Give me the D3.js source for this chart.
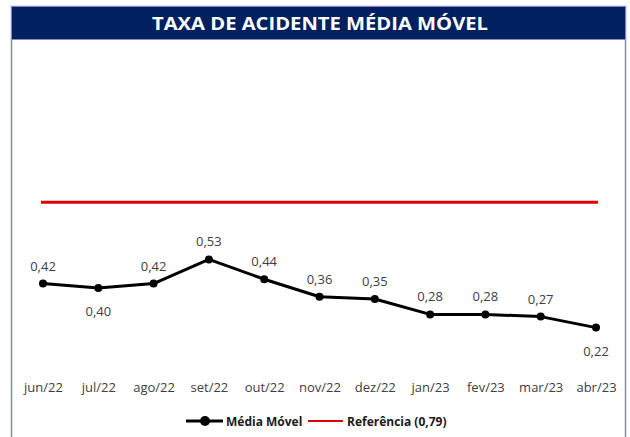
<!DOCTYPE html>
<html>
<head>
<meta charset="utf-8">
<script src="https://cdn.jsdelivr.net/npm/d3@7/dist/d3.min.js"></script>
<style>
  html, body { margin: 0; padding: 0; background: #fff; }
  svg { display: block; }
</style>
</head>
<body>
<svg id="chart" width="630" height="437"></svg>
<script>
// Monthly moving-average accident rate
const months = ["jun/22","jul/22","ago/22","set/22","out/22","nov/22","dez/22","jan/23","fev/23","mar/23","abr/23"];
const mediaMovel = [0.42, 0.40, 0.42, 0.53, 0.44, 0.36, 0.35, 0.28, 0.28, 0.27, 0.22];
const referencia = 0.79;
// label placement for each point: above or below the marker
const labelPos = ["above","below","above","above","above","above","above","above","above","above","below"];
const titleText = "TAXA DE ACIDENTE MÉDIA MÓVEL";
const legendLabels = ["Média Móvel", "Referência (0,79)"];

const svg = d3.select("#chart");
const fmt = v => d3.format(".2f")(v).replace(".", ",");
const font = "'Open Sans', 'Noto Sans', sans-serif";

// frame
svg.append("rect")
  .attr("x", 11.5).attr("y", 6.5)
  .attr("width", 614).attr("height", 440)
  .attr("fill", "none")
  .attr("stroke", "#8585c8").attr("stroke-width", 1.5);

// title bar
svg.append("rect")
  .attr("x", 11.5).attr("y", 6.5)
  .attr("width", 614).attr("height", 33)
  .attr("fill", "#002060")
  .attr("stroke", "#8585c8").attr("stroke-width", 1);

svg.append("text")
  .attr("x", 320).attr("y", 30)
  .attr("text-anchor", "middle")
  .attr("font-family", font)
  .attr("font-weight", "bold")
  .attr("font-size", 18)
  .attr("fill", "#fff")
  .attr("textLength", 336)
  .attr("lengthAdjust", "spacingAndGlyphs")
  .text(titleText);

// scales
const x = d3.scalePoint().domain(months).range([43, 596]);
const y = d3.scaleLinear().domain([0, 1]).range([376, 156]);

// reference line
svg.append("line")
  .attr("x1", 41).attr("x2", 598)
  .attr("y1", y(referencia)).attr("y2", y(referencia))
  .attr("stroke", "#e00000").attr("stroke-width", 3);

// x axis labels (no axis line or ticks)
const xAxis = d3.axisBottom(x).tickSize(0).tickPadding(0);
const gx = svg.append("g").attr("transform", "translate(0,383)").call(xAxis);
gx.select(".domain").remove();
gx.selectAll("text")
  .attr("font-family", font)
  .attr("font-size", 13)
  .attr("fill", "#404040");

// series line
const line = d3.line().x((d, i) => x(months[i])).y(d => y(d));
svg.append("path")
  .datum(mediaMovel)
  .attr("d", line)
  .attr("fill", "none")
  .attr("stroke", "#000")
  .attr("stroke-width", 3)
  .attr("stroke-linejoin", "round");

svg.selectAll("circle.pt")
  .data(mediaMovel)
  .join("circle")
  .attr("class", "pt")
  .attr("cx", (d, i) => x(months[i]))
  .attr("cy", d => y(d))
  .attr("r", 4)
  .attr("fill", "#000");

// data labels
svg.selectAll("text.lbl")
  .data(mediaMovel)
  .join("text")
  .attr("class", "lbl")
  .attr("x", (d, i) => x(months[i]))
  .attr("y", (d, i) => y(d) + (labelPos[i] === "above" ? -13 : 28))
  .attr("text-anchor", "middle")
  .attr("font-family", font)
  .attr("font-size", 13)
  .attr("fill", "#404040")
  .text(d => fmt(d));

// legend
const lg = svg.append("g").attr("transform", "translate(0,421)");
lg.append("line").attr("x1", 186).attr("x2", 223).attr("y1", 0).attr("y2", 0)
  .attr("stroke", "#000").attr("stroke-width", 3);
lg.append("circle").attr("cx", 205).attr("cy", 0).attr("r", 5).attr("fill", "#000");
lg.append("text").attr("x", 226).attr("y", 4.5)
  .attr("font-family", font).attr("font-weight", "bold").attr("font-size", 12)
  .attr("fill", "#1a1a1a").text(legendLabels[0]);
lg.append("line").attr("x1", 308).attr("x2", 343).attr("y1", 0).attr("y2", 0)
  .attr("stroke", "#e00000").attr("stroke-width", 2);
lg.append("text").attr("x", 347).attr("y", 4.5)
  .attr("font-family", font).attr("font-weight", "bold").attr("font-size", 12)
  .attr("fill", "#1a1a1a").text(legendLabels[1]);
</script>
</body>
</html>
